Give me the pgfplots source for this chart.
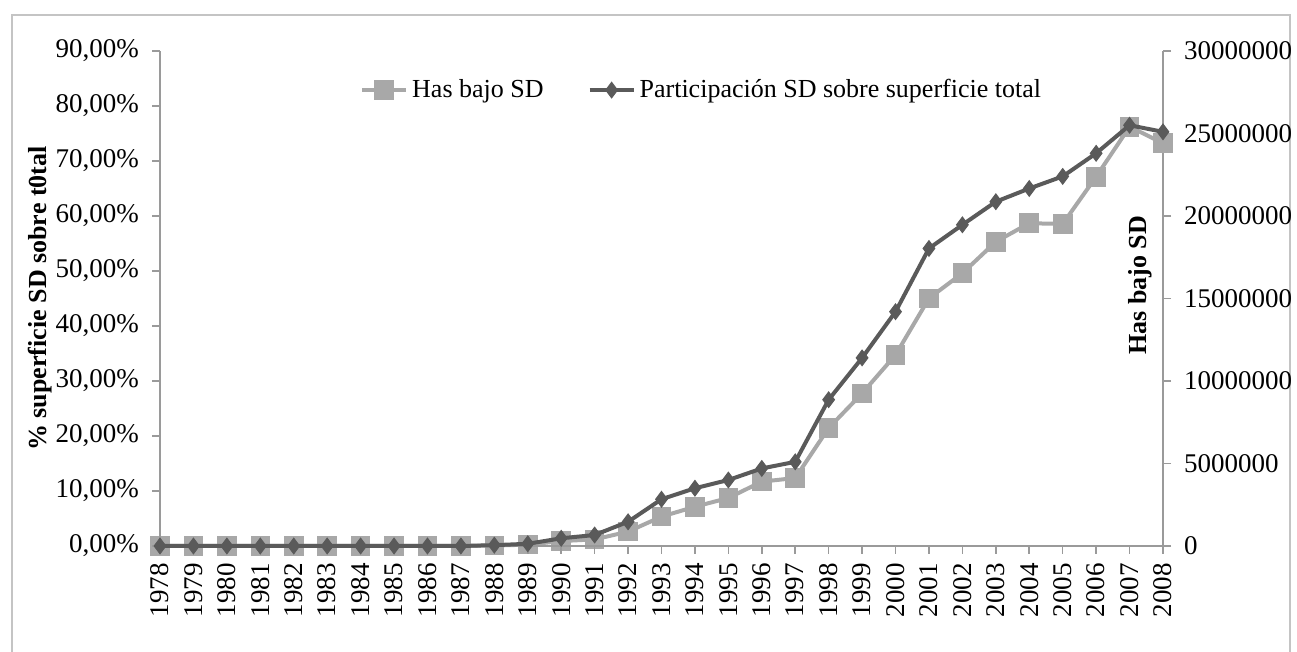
\documentclass[border=0pt]{standalone}
\usepackage{pgfplots}
\pgfplotsset{compat=1.18}
\usepackage{fontspec}
\setmainfont{Liberation Serif}
\definecolor{darkser}{HTML}{5A5A5A}
\definecolor{lightser}{HTML}{A8A8A8}
\definecolor{axgray}{HTML}{9A9A9A}
\definecolor{framegray}{HTML}{C4C4C4}

\pgfplotstableread{
year has
1978 0
1979 0
1980 0
1981 0
1982 0
1983 0
1984 0
1985 0
1986 0
1987 0
1988 30000
1989 80000
1990 300000
1991 400000
1992 870000
1993 1780000
1994 2380000
1995 2910000
1996 3900000
1997 4120000
1998 7150000
1999 9250000
2000 11580000
2001 15010000
2002 16530000
2003 18440000
2004 19560000
2005 19520000
2006 22380000
2007 25410000
2008 24410000
}\hasdata

\pgfplotstableread{
year pct
1978 0
1979 0
1980 0
1981 0
1982 0
1983 0
1984 0
1985 0
1986 0
1987 0
1988 0.15
1989 0.4
1990 1.4
1991 2.0
1992 4.4
1993 8.5
1994 10.5
1995 12.0
1996 14.1
1997 15.3
1998 26.6
1999 34.2
2000 42.6
2001 54.1
2002 58.4
2003 62.6
2004 65.0
2005 67.2
2006 71.4
2007 76.5
2008 75.3
}\pctdata

\pgfplotsset{
  common/.style={
    at={(80pt,53pt)}, anchor=south west,
    scale only axis, width=501.5pt, height=247.5pt,
    xmin=1978, xmax=2008,
    axis line style={axgray, line width=0.8pt, -},
    tick style={axgray, line width=0.8pt},
    major tick length=4pt, tick align=outside,
    tick label style={font=\fontsize{13.5}{15}\selectfont, text=black},
    /pgf/number format/assume math mode=true,
    clip=false,
  },
  lightstyle/.style={color=lightser, line width=2pt, mark=square*, mark size=3.9pt, mark options={fill=lightser, draw=lightser}},
  darkstyle/.style={color=darkser, line width=2pt, mark=diamond*, mark size=3.9pt, mark options={fill=darkser, draw=darkser, line width=0.5pt}},
}

\begin{document}
\begin{tikzpicture}
\path[use as bounding box] (0,0) rectangle (648.5pt,326pt);
\draw[framegray, line width=1.2pt] (6pt,-20pt) -- (6pt,318.5pt) -- (645pt,318.5pt) -- (645pt,-20pt);

% Right axis: Has bajo SD
\begin{axis}[common,
  ymin=0, ymax=30000000,
  axis y line*=right, axis x line=none,
  ytick={0,5000000,10000000,15000000,20000000,25000000,30000000},
  yticklabels={0,5000000,10000000,15000000,20000000,25000000,30000000},
  scaled y ticks=false,
  yticklabel style={xshift=3pt},
]
\addplot[lightstyle] table[x=year,y=has] {\hasdata};
\node[rotate=90, font=\fontsize{13}{15}\selectfont\bfseries] at (rel axis cs:0.977,0.527) {Has bajo SD};
\end{axis}

% Left axis: percentage
\begin{axis}[common,
  ymin=0, ymax=90,
  axis y line*=left, axis x line*=bottom,
  ytick={0,10,...,90},
  yticklabels={{0,00\%},{10,00\%},{20,00\%},{30,00\%},{40,00\%},{50,00\%},{60,00\%},{70,00\%},{80,00\%},{90,00\%}},
  yticklabel style={xshift=-3pt},
  xtick={1978,1979,...,2008},
  xticklabels={1978,1979,1980,1981,1982,1983,1984,1985,1986,1987,1988,1989,1990,1991,1992,1993,1994,1995,1996,1997,1998,1999,2000,2001,2002,2003,2004,2005,2006,2007,2008},
  xticklabel style={rotate=90, anchor=east, yshift=0pt, xshift=-1pt},
  ylabel={\textbf{\% superficie SD sobre t0tal}},
  ylabel style={at={(axis description cs:-0.1196,0.5)}, anchor=center, rotate=0, font=\fontsize{13}{15}\selectfont},
  legend columns=2,
  legend style={draw=none, fill=none, at={(rel axis cs:0.541,0.921)}, anchor=center,
    font=\fontsize{13}{15}\selectfont,
    /tikz/every even column/.append style={column sep=20pt}},
  legend cell align=left,
  legend image code/.code={\draw[#1, mark repeat=2, mark phase=2] plot coordinates {(0pt,0pt) (11pt,0pt) (22pt,0pt)};},
]
\addlegendimage{lightstyle}
\addlegendentry{Has bajo SD}
\addplot[darkstyle] table[x=year,y=pct] {\pctdata};
\addlegendentry{Participación SD sobre superficie total}
\end{axis}
\end{tikzpicture}
\end{document}
